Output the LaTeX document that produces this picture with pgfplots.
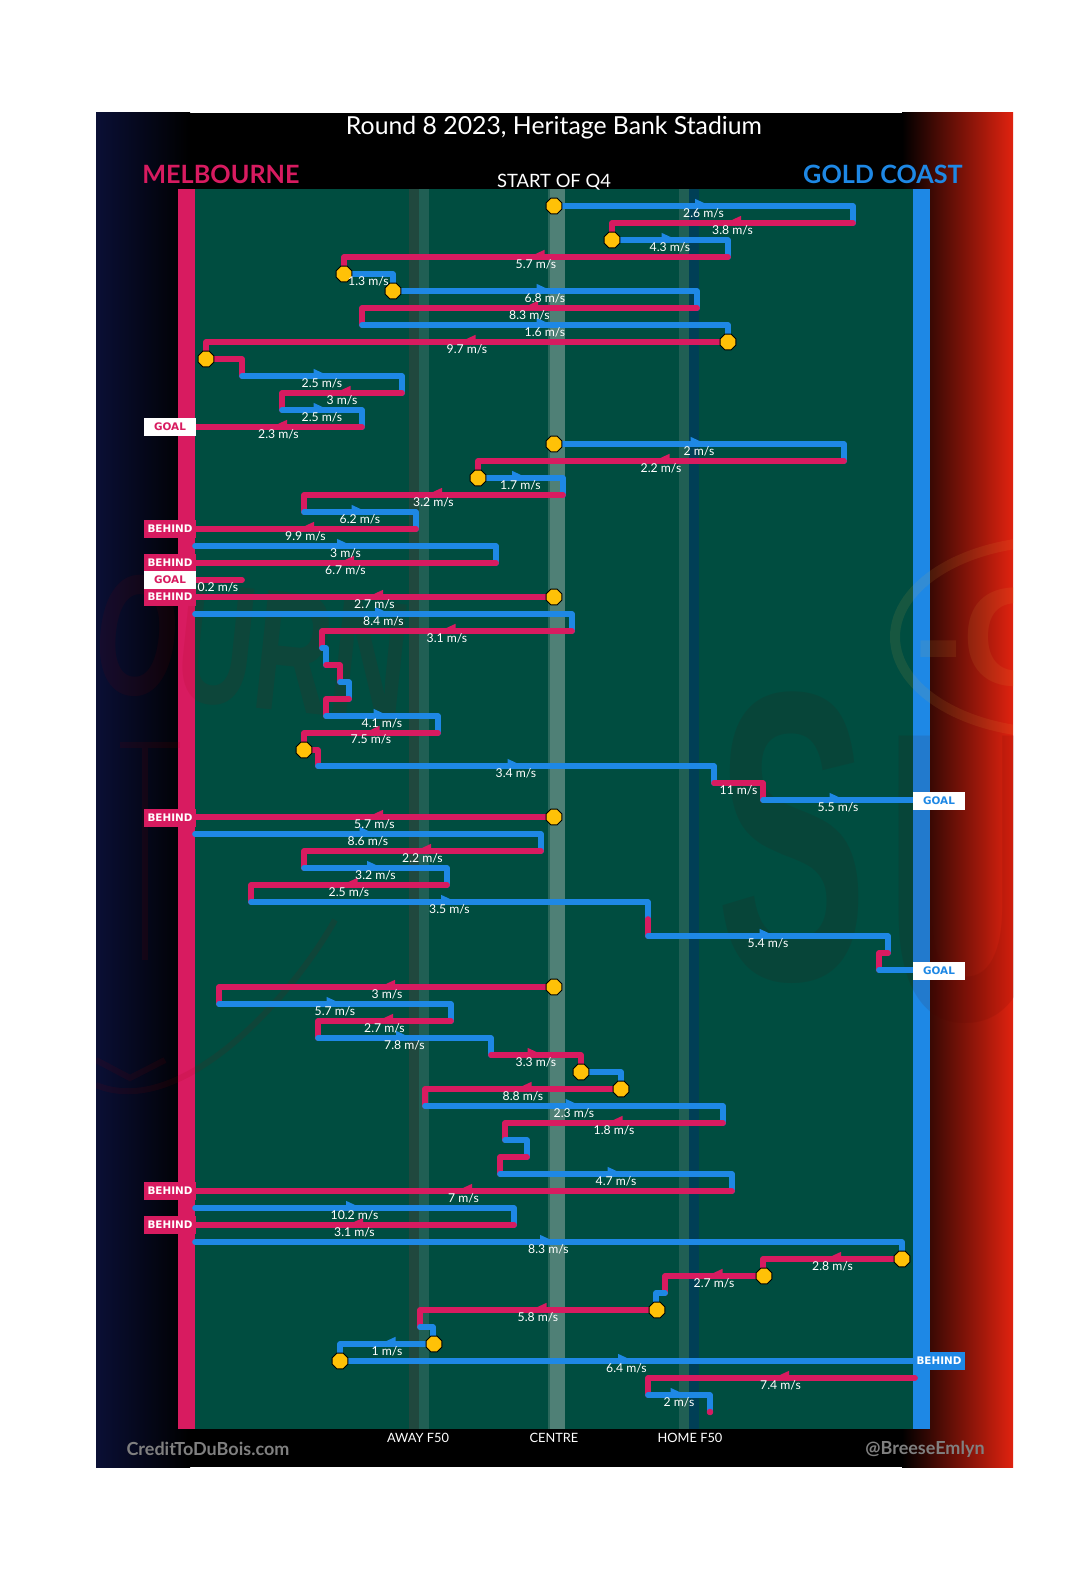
\documentclass[border=0pt]{standalone}
\usepackage{fontspec}
\usepackage{pgfplots}
\usepackage{pgfplotstable}
\pgfplotsset{compat=1.18}
\setmainfont{Lato}
\newfontfamily\boxfont{DejaVu Sans}
\newfontfamily\wmfont{Liberation Sans}

\definecolor{pinkc}{HTML}{D81B60}
\definecolor{bluec}{HTML}{1E88E5}
\definecolor{field}{HTML}{004D40}
\definecolor{ballc}{HTML}{FFC107}
\definecolor{leftend}{HTML}{0A0F35}
\definecolor{rightend}{HTML}{E0220F}
\definecolor{awaydark}{HTML}{20483E}
\definecolor{f50light}{HTML}{205F54}
\definecolor{homedark}{HTML}{003F56}
\definecolor{centreedge}{HTML}{2A675B}
\definecolor{centre}{HTML}{4F8076}
\definecolor{suns}{HTML}{E8B040}

% marks, 1 px = 0.5 pt
\pgfdeclareplotmark{arrR}{%
  \pgfpathmoveto{\pgfqpoint{-4.25pt}{3.6pt}}%
  \pgfpathlineto{\pgfqpoint{3.5pt}{0pt}}%
  \pgfpathlineto{\pgfqpoint{-4.25pt}{-1pt}}%
  \pgfpathclose\pgfusepathqfill}
\pgfdeclareplotmark{arrL}{%
  \pgfpathmoveto{\pgfqpoint{4.25pt}{3.6pt}}%
  \pgfpathlineto{\pgfqpoint{-3.5pt}{0pt}}%
  \pgfpathlineto{\pgfqpoint{4.25pt}{-1pt}}%
  \pgfpathclose\pgfusepathqfill}
\pgfdeclareplotmark{oct}{%
  \pgfpathmoveto{\pgfqpoint{1.6pt}{3.9pt}}%
  \pgfpathlineto{\pgfqpoint{3.9pt}{1.6pt}}%
  \pgfpathlineto{\pgfqpoint{3.9pt}{-1.6pt}}%
  \pgfpathlineto{\pgfqpoint{1.6pt}{-3.9pt}}%
  \pgfpathlineto{\pgfqpoint{-1.6pt}{-3.9pt}}%
  \pgfpathlineto{\pgfqpoint{-3.9pt}{-1.6pt}}%
  \pgfpathlineto{\pgfqpoint{-3.9pt}{1.6pt}}%
  \pgfpathlineto{\pgfqpoint{-1.6pt}{3.9pt}}%
  \pgfpathclose\pgfusepath{fill,stroke}}

\pgfplotsset{seg/.style={line width=2.85pt,line cap=round,line join=round}}
\newcommand\pk[1]{\addplot[seg,color=pinkc] coordinates {#1};}
\newcommand\bl[1]{\addplot[seg,color=bluec] coordinates {#1};}
\newcommand\bo[2]{\addplot[only marks,mark=oct,mark options={draw=black,fill=ballc,line width=0.5pt}] coordinates {(#1,#2)};}
\newcommand\sctag[5]{\node[fill=#2,text=#3,font=\boxfont\bfseries\fontsize{5.2}{6}\selectfont,minimum width=26pt,minimum height=9pt,inner sep=0pt] at (axis cs:#1,#4) {#5};}

\pgfplotstableread[col sep=comma]{
x,y,label
703.5,213,2.6 m/s
732.5,230,3.8 m/s
670,247,4.3 m/s
536,264,5.7 m/s
368.5,281,1.3 m/s
545,298,6.8 m/s
529.5,315,8.3 m/s
545,332,1.6 m/s
467,349,9.7 m/s
322,383,2.5 m/s
342,400,3 m/s
322,417,2.5 m/s
278.5,434,2.3 m/s
699,451,2 m/s
661,468,2.2 m/s
520.5,485,1.7 m/s
433.5,502,3.2 m/s
360,519,6.2 m/s
305.5,536,9.9 m/s
345.5,553,3 m/s
345.5,570,6.7 m/s
218,587,0.2 m/s
374.5,604,2.7 m/s
383.5,621,8.4 m/s
447,638,3.1 m/s
382,723,4.1 m/s
371,739,7.5 m/s
516,773,3.4 m/s
738.5,790,11 m/s
838,807,5.5 m/s
374.5,824,5.7 m/s
368,841,8.6 m/s
422.5,858,2.2 m/s
375.5,875,3.2 m/s
349,892,2.5 m/s
449.5,909,3.5 m/s
768,943,5.4 m/s
387,994,3 m/s
335,1011,5.7 m/s
384.5,1028,2.7 m/s
404.5,1045,7.8 m/s
536,1062,3.3 m/s
523,1096,8.8 m/s
574,1113,2.3 m/s
614,1130,1.8 m/s
616,1181,4.7 m/s
463.5,1198,7 m/s
354.5,1215,10.2 m/s
354.5,1232,3.1 m/s
548.5,1249,8.3 m/s
832.5,1266,2.8 m/s
714,1283,2.7 m/s
538,1317,5.8 m/s
387,1351,1 m/s
626.5,1368,6.4 m/s
780.5,1385,7.4 m/s
679,1402,2 m/s
}\speedlabels

\begin{document}
\begin{tikzpicture}
\begin{axis}[
  width=540pt, height=797.5pt, scale only axis,
  xmin=0, xmax=1080, ymin=0, ymax=1595, y dir=reverse,
  hide axis, clip=false]

% panel
\fill[white] (axis cs:0,0) rectangle (axis cs:1080,1595);
\fill[black] (axis cs:96,113) rectangle (axis cs:1013,1467);
\shade[left color=leftend,right color=black] (axis cs:96,113) rectangle (axis cs:190,1467);
\shade[left color=black,right color=rightend] (axis cs:902,113) rectangle (axis cs:1013,1467);

% pitch
\fill[field] (axis cs:178,189) rectangle (axis cs:930,1429);
\fill[awaydark] (axis cs:409,189) rectangle (axis cs:419,1429);
\fill[f50light] (axis cs:419,189) rectangle (axis cs:429,1429);
\fill[f50light] (axis cs:679,189) rectangle (axis cs:689,1429);
\fill[homedark] (axis cs:689,189) rectangle (axis cs:699,1429);
\fill[centreedge] (axis cs:548,189) rectangle (axis cs:565,1429);
\fill[centre] (axis cs:550,189) rectangle (axis cs:565,1429);
\fill[pinkc] (axis cs:178,189) rectangle (axis cs:195,1429);
\fill[bluec] (axis cs:913,189) rectangle (axis cs:930,1429);

% faint logos behind the chart
\begin{scope}
\clip (axis cs:96,113) rectangle (axis cs:1013,1467);
\node[rotate=-6,text=red!60!black,opacity=.09,font=\wmfont\bfseries\fontsize{86}{86}\selectfont,inner sep=0pt,anchor=west] at (axis cs:96,632) {\scalebox{.62}[1]{OURN}};
\node[text=black!70!red,opacity=.1,font=\wmfont\bfseries\fontsize{206}{206}\selectfont,inner sep=0pt] at (axis cs:792,838) {\scalebox{.55}[1]{S}};
\node[text=black!70!red,opacity=.1,font=\wmfont\bfseries\fontsize{206}{206}\selectfont,inner sep=0pt,anchor=west] at (axis cs:885,880) {\scalebox{.55}[1]{U}};
\draw[suns,opacity=.1,line width=5pt] (axis cs:1055,637) ellipse [x radius=80pt,y radius=48pt];
\node[text=suns,opacity=.1,font=\wmfont\bfseries\fontsize{70}{70}\selectfont,inner sep=0pt,anchor=west] at (axis cs:915,637) {-G};
\draw[red!60!black,opacity=.1,line width=3pt] (axis cs:96,1060) -- (axis cs:130,1078) -- (axis cs:165,1060);
\draw[red!60!black,opacity=.1,line width=3pt] (axis cs:96,1085) .. controls (axis cs:180,1120) and (axis cs:290,1000) .. (axis cs:335,920);
\draw[red!60!black,opacity=.1,line width=3pt] (axis cs:120,745) -- (axis cs:180,745) (axis cs:145,745) -- (axis cs:145,960);
\end{scope}

% one row per passage of play, in order
\bo{554}{206}
\bl{(554,206)(853,206)(853,223)}
\pk{(853,223)(612,223)(612,240)}
\bo{612}{240}
\bl{(612,240)(728,240)(728,257)}
\pk{(728,257)(344,257)(344,274)}
\bo{344}{274}
\bl{(344,274)(393,274)(393,291)}
\bo{393}{291}
\bl{(393,291)(697,291)(697,308)}
\pk{(697,308)(362,308)(362,325)}
\bl{(362,325)(728,325)(728,342)}
\bo{728}{342}
\pk{(728,342)(206,342)(206,359)}
\bo{206}{359}
\pk{(206,359)(242,359)(242,376)}
\bl{(242,376)(402,376)(402,393)}
\pk{(402,393)(282,393)(282,410)}
\bl{(282,410)(362,410)(362,427)}
\pk{(362,427)(195,427)}

\bo{554}{444}
\bl{(554,444)(844,444)(844,461)}
\pk{(844,461)(478,461)(478,478)}
\bo{478}{478}
\bl{(478,478)(563,478)(563,495)}
\pk{(563,495)(304,495)(304,512)}
\bl{(304,512)(416,512)(416,529)}
\pk{(416,529)(195,529)}
\bl{(195,546)(496,546)(496,563)}
\pk{(496,563)(195,563)}
\pk{(242,580)(195,580)}
\bo{554}{597}
\pk{(554,597)(195,597)}
\bl{(195,614)(572,614)(572,631)}
\pk{(572,631)(322,631)(322,648)}
\bl{(322,648)(326,648)(326,665)}
\pk{(326,665)(340,665)(340,682)}
\bl{(340,682)(349,682)(349,699)}
\pk{(349,699)(326,699)(326,716)}
\bl{(326,716)(438,716)(438,733)}
\pk{(438,733)(304,733)(304,750)}
\bo{304}{750}
\pk{(304,750)(318,750)(318,766)}
\bl{(318,766)(714,766)(714,783)}
\pk{(714,783)(763,783)(763,800)}
\bl{(763,800)(913,800)}

\bo{554}{817}
\pk{(554,817)(195,817)}
\bl{(195,834)(541,834)(541,851)}
\pk{(541,851)(304,851)(304,868)}
\bl{(304,868)(447,868)(447,885)}
\pk{(447,885)(251,885)(251,902)}
\bl{(251,902)(648,902)(648,919)}
\pk{(648,919)(648,936)}
\bl{(648,936)(888,936)(888,953)}
\pk{(888,953)(879,953)(879,970)}
\bl{(879,970)(913,970)}

\bo{554}{987}
\pk{(554,987)(219,987)(219,1004)}
\bl{(219,1004)(451,1004)(451,1021)}
\pk{(451,1021)(318,1021)(318,1038)}
\bl{(318,1038)(491,1038)(491,1055)}
\pk{(491,1055)(581,1055)(581,1072)}
\bo{581}{1072}
\bl{(581,1072)(621,1072)(621,1089)}
\bo{621}{1089}
\pk{(621,1089)(425,1089)(425,1106)}
\bl{(425,1106)(723,1106)(723,1123)}
\pk{(723,1123)(505,1123)(505,1140)}
\bl{(505,1140)(527,1140)(527,1157)}
\pk{(527,1157)(500,1157)(500,1174)}
\bl{(500,1174)(732,1174)(732,1191)}
\pk{(732,1191)(195,1191)}
\bl{(195,1208)(514,1208)(514,1225)}
\pk{(514,1225)(195,1225)}
\bl{(195,1242)(902,1242)(902,1259)}
\bo{902}{1259}
\pk{(902,1259)(763,1259)(763,1276)}
\bo{764}{1276}
\pk{(764,1276)(665,1276)(665,1293)}
\bl{(665,1293)(656,1293)(656,1310)}
\bo{657}{1310}
\pk{(657,1310)(420,1310)(420,1327)}
\bl{(420,1327)(433,1327)(433,1344)}
\bo{434}{1344}
\bl{(434,1344)(340,1344)(340,1361)}
\bo{340}{1361}
\bl{(340,1361)(913,1361)}
\pk{(915,1378)(648,1378)(648,1395)}
\bl{(648,1395)(710,1395)(710,1412)}
\addplot[only marks,mark=*,mark size=1.4pt,color=pinkc] coordinates {(710,1412)};

% direction arrows at the middle of each passage
\addplot[only marks,mark=arrR,color=bluec] coordinates {
(703.5,206)(670,240)(545,291)(545,325)(322,376)(322,410)(699,444)(520.5,478)
(360,512)(345.5,546)(383.5,614)(382,716)(516,766)(838,800)(368,834)(375.5,868)
(449.5,902)(768,936)(335,1004)(404.5,1038)(574,1106)(616,1174)(354.5,1208)
(548.5,1242)(626.5,1361)(679,1395)};
\addplot[only marks,mark=arrL,color=bluec] coordinates {(387,1344)};
\addplot[only marks,mark=arrL,color=pinkc] coordinates {
(732.5,223)(536,257)(529.5,308)(467,342)(342,393)(278.5,427)(661,461)(433.5,495)
(305.5,529)(345.5,563)(374.5,597)(447,631)(371,733)(374.5,817)(422.5,851)(349,885)
(386.5,987)(384.5,1021)(523,1089)(614,1123)(463.5,1191)(354.5,1225)(832.5,1259)
(714,1276)(538,1310)(780.5,1378)};
\addplot[only marks,mark=arrR,color=pinkc] coordinates {(536,1055)};

% score tags
\sctag{170}{pinkc}{white}{529}{BEHIND}
\sctag{170}{pinkc}{white}{563}{BEHIND}
\sctag{170}{pinkc}{white}{597}{BEHIND}
\sctag{170}{pinkc}{white}{818}{BEHIND}
\sctag{170}{pinkc}{white}{1191}{BEHIND}
\sctag{170}{pinkc}{white}{1225}{BEHIND}
\sctag{170}{white}{pinkc}{427}{GOAL}
\sctag{170}{white}{pinkc}{580}{GOAL}
\sctag{939}{white}{bluec}{801}{GOAL}
\sctag{939}{white}{bluec}{971}{GOAL}
\sctag{939}{bluec}{white}{1361}{BEHIND}

% speed labels
\addplot[only marks,mark=none,point meta=explicit symbolic,nodes near coords,
  every node near coord/.append style={anchor=center,text=white,inner sep=0pt,
    font=\fontsize{6.1}{7}\selectfont}]
  table[x=x,y=y,meta=label] {\speedlabels};

% titles
\node[text=white,font=\fontsize{12.4}{14}\selectfont] at (axis cs:554,128) {Round 8 2023, Heritage Bank Stadium};
\node[text=white,font=\fontsize{9.2}{11}\selectfont,inner sep=0pt] at (axis cs:554,182) {START OF Q4};
\node[text=pinkc,font=\bfseries\fontsize{12.6}{14}\selectfont,inner sep=0pt] at (axis cs:221,174) {MELBOURNE};
\node[text=bluec,font=\bfseries\fontsize{12.6}{14}\selectfont,inner sep=0pt] at (axis cs:883,174) {GOLD COAST};
\node[text=white,font=\fontsize{6.4}{8}\selectfont,inner sep=0pt] at (axis cs:418,1438) {AWAY F50};
\node[text=white,font=\fontsize{6.4}{8}\selectfont,inner sep=0pt] at (axis cs:554,1438) {CENTRE};
\node[text=white,font=\fontsize{6.4}{8}\selectfont,inner sep=0pt] at (axis cs:690,1438) {HOME F50};
\node[text=gray,font=\bfseries\fontsize{9}{11}\selectfont,inner sep=0pt] at (axis cs:208,1449) {CreditToDuBois.com};
\node[text=gray,font=\bfseries\fontsize{9}{11}\selectfont,inner sep=0pt] at (axis cs:925,1449) {@BreeseEmlyn};
\end{axis}
\end{tikzpicture}
\end{document}
